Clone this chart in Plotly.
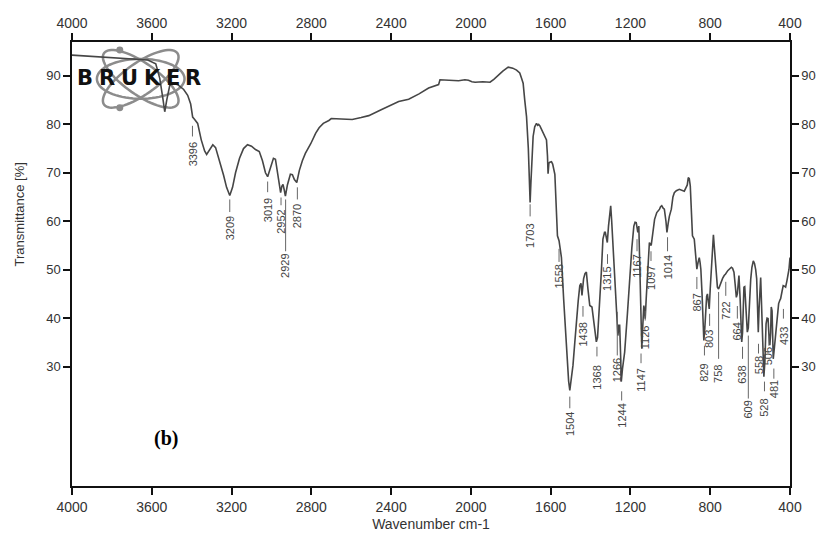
import math
import plotly.graph_objects as go

# ---------------- data ----------------
wavenumber = [
    4000, 3900, 3800, 3700, 3620, 3580, 3560, 3545, 3535, 3525, 3510, 3490, 3470, 3440, 3420,
    3405, 3395, 3385, 3370, 3352, 3335, 3325, 3310, 3294, 3280, 3260, 3240, 3225, 3209, 3195,
    3180, 3160, 3140, 3120, 3100, 3080, 3061, 3045, 3030, 3019, 3005, 2990, 2980, 2970, 2960,
    2954, 2948, 2942, 2936, 2930, 2920, 2905, 2895, 2885, 2873, 2860, 2845, 2830, 2803, 2778,
    2761, 2740, 2712, 2700, 2650, 2595, 2550, 2512, 2450, 2400, 2362, 2312, 2260, 2212, 2171,
    2162, 2155, 2120, 2062, 2030, 2012, 1995, 1979, 1940, 1904, 1885, 1863, 1840, 1813, 1790,
    1771, 1755, 1746, 1738, 1730, 1721, 1712, 1706, 1703, 1699, 1694, 1688, 1680, 1671, 1665,
    1660, 1654, 1638, 1625, 1621, 1616, 1613, 1609, 1604, 1596, 1590, 1579, 1572, 1566, 1558,
    1552, 1546, 1535, 1521, 1510, 1504, 1497, 1488, 1479, 1471, 1462, 1454, 1448, 1443, 1439,
    1435, 1428, 1421, 1413, 1404, 1393, 1382, 1371, 1365, 1354, 1346, 1338, 1330, 1326, 1316,
    1310, 1303, 1299, 1294, 1288, 1280, 1271, 1266, 1263, 1258, 1254, 1249, 1246, 1240, 1229,
    1215, 1204, 1193, 1183, 1177, 1171, 1167, 1163, 1158, 1154, 1150, 1147, 1143, 1138, 1133,
    1129, 1126, 1121, 1116, 1110, 1105, 1100, 1096, 1088, 1079, 1068, 1054, 1049, 1043, 1036,
    1030, 1022, 1017, 1011, 1005, 995, 987, 980, 970, 955, 940, 930, 922, 915, 910,
    905, 900, 895, 889, 880, 872, 867, 861, 855, 851, 847, 841, 836, 832, 827,
    822, 818, 814, 809, 805, 800, 794, 789, 784, 780, 776, 770, 764, 758, 752,
    748, 738, 730, 723, 712, 700, 694, 688, 681, 675, 669, 664, 660, 656, 650,
    645, 642, 638, 631, 627, 622, 617, 614, 609, 604, 597, 591, 584, 578, 572,
    567, 563, 559, 555, 551, 547, 542, 537, 531, 526, 520, 515, 510, 505, 501,
    497, 494, 490, 487, 484, 478, 472, 464, 457, 450, 447, 440, 434, 428, 422,
    415, 408, 405, 400,
]
transmittance = [
    94.3, 94.0, 93.8, 93.5, 93.3, 92.5, 89.5, 85.5, 82.6, 85.0, 88.0, 88.5, 88.2, 87.2, 86.0,
    84.2, 81.5, 81.0, 80.2, 76.8, 74.5, 73.8, 74.8, 75.8, 75.2, 72.5, 69.5, 67.0, 65.3, 67.0,
    70.0, 73.0, 75.0, 75.8, 75.5, 74.8, 74.4, 72.5, 70.0, 69.2, 71.0, 73.0, 72.8, 70.0, 67.0,
    65.9, 67.2, 67.6, 66.5, 65.2, 67.5, 69.7, 69.6, 68.6, 68.0, 70.5, 72.5, 74.0, 76.0, 78.2,
    79.3, 80.2, 80.8, 81.2, 81.1, 81.0, 81.4, 81.8, 83.0, 84.0, 84.7, 85.2, 86.3, 87.5, 88.0,
    88.2, 89.2, 89.1, 89.0, 89.2, 89.1, 88.8, 88.7, 88.8, 88.7, 89.3, 90.2, 91.0, 91.8, 91.6,
    91.2, 90.6, 89.5, 88.5, 85.0, 81.6, 75.0, 67.0, 63.9, 68.0, 73.0, 77.5, 79.5, 80.2, 79.8,
    80.0, 79.7, 78.2, 77.2, 76.8, 73.5, 69.8, 72.0, 72.2, 72.3, 71.8, 69.7, 64.0, 57.0, 56.0,
    54.5, 52.5, 44.0, 33.0, 27.0, 25.1, 27.0, 30.3, 35.0, 39.9, 43.5, 46.7, 47.2, 44.7, 46.5,
    48.1, 49.2, 49.5, 46.0, 42.6, 42.3, 38.5, 35.1, 36.0, 42.6, 49.5, 56.3, 57.7, 57.7, 55.6,
    59.0, 62.5, 63.2, 60.0, 55.0, 48.0, 41.2, 38.0, 36.4, 38.5, 38.5, 32.0, 26.9, 29.5, 33.0,
    41.0, 48.1, 54.5, 59.0, 59.8, 59.7, 58.0, 57.7, 59.0, 52.0, 39.9, 34.5, 33.7, 38.5, 42.6,
    41.5, 39.9, 44.0, 48.1, 52.5, 55.6, 55.2, 55.0, 57.5, 60.4, 61.8, 62.5, 63.0, 63.2, 62.7,
    62.5, 60.0, 57.7, 59.5, 61.0, 62.5, 65.0, 65.9, 66.3, 66.6, 66.4, 66.2, 66.9, 67.5, 69.0,
    68.8, 67.3, 62.0, 57.0, 56.3, 53.0, 50.1, 51.5, 52.5, 51.5, 50.1, 45.0, 38.0, 35.4, 38.0,
    43.3, 44.5, 45.0, 43.5, 41.9, 46.0, 51.5, 55.0, 57.2, 55.0, 52.2, 49.0, 46.4, 46.0, 46.8,
    47.1, 48.2, 48.8, 49.1, 49.8, 50.4, 50.5, 50.3, 49.5, 47.0, 44.3, 45.0, 48.0, 48.8, 44.0,
    37.5, 35.1, 37.0, 46.4, 46.5, 42.0, 38.0, 37.1, 38.0, 43.0, 48.0, 50.5, 51.8, 51.3, 50.0,
    48.1, 43.0, 37.1, 42.0, 47.5, 48.4, 42.0, 34.0, 27.9, 31.0, 38.8, 40.0, 39.9, 36.0, 34.4,
    37.0, 42.3, 41.5, 36.0, 31.6, 34.0, 37.0, 41.2, 43.0, 43.8, 44.0, 45.5, 46.7, 46.6, 46.4,
    47.8, 49.5, 50.1, 52.5,
]

peak_labels = ["3396", "3209", "3019", "2952", "2929", "2870", "1703", "1558", "1504", "1438",
               "1368", "1315", "1266", "1244", "1167", "1147", "1126", "1097", "1014", "867",
               "829", "803", "758", "722", "664", "638", "609", "558", "528", "506", "481", "433"]
peak_wn = [3396, 3209, 3019, 2952, 2929, 2870, 1703, 1558, 1504, 1438,
           1368, 1315, 1266, 1244, 1167, 1147, 1126, 1097, 1014, 867,
           829, 803, 758, 722, 664, 638, 609, 558, 528, 506, 481, 433]

x_ticks = [4000, 3600, 3200, 2800, 2400, 2000, 1600, 1200, 800, 400]
y_ticks = [30, 40, 50, 60, 70, 80, 90]

# ---------------- label layout (transmittance units) ----------------
# (marker line top, marker line bottom, text centre)
label_layout = [
    (79.7, 77.5, 73.9), (64.5, 61.9, 58.5), (68.2, 66.0, 62.2), (64.9, 63.3, 59.9),
    (64.5, 53.8, 50.7), (67.0, 64.5, 61.1), (63.5, 61.0, 57.0), (54.3, 51.6, 48.6),
    (23.8, 21.4, 18.1), (42.5, 40.3, 36.6), (34.1, 32.1, 27.7), (53.2, 51.2, 48.0),
    (41.3, 32.3, 29.3), (24.9, 23.0, 19.8), (56.3, 53.8, 50.8), (32.7, 30.7, 27.3),
    (41.5, 39.5, 36.1), (53.8, 51.8, 48.3), (56.7, 53.8, 50.4), (48.5, 46.0, 43.2),
    (34.3, 32.3, 28.8), (40.9, 38.4, 35.6), (45.4, 31.6, 28.4), (47.5, 44.6, 41.5),
    (42.5, 39.9, 37.3), (34.1, 31.6, 28.2), (36.4, 23.4, 21.2), (34.7, 32.7, 30.4),
    (26.9, 24.9, 21.6), (36.4, 34.3, 32.1), (29.6, 27.5, 25.3), (41.9, 39.9, 36.4),
]

W, H = 828, 542
ML, MR, MT, MB = 72, 35, 42, 54
PW, PH = W - ML - MR, H - MT - MB
Y_RANGE = [5.35, 97.0]


def px2paper(px, py):
    return ((px - ML) / PW, (H - MB - py) / PH)


fig = go.Figure()
fig.add_trace(go.Scatter(x=wavenumber, y=transmittance, mode="lines",
                         line=dict(color="#464646", width=1.6), hoverinfo="skip",
                         showlegend=False))
fig.add_trace(go.Scatter(x=wavenumber, y=transmittance, mode="lines", xaxis="x2", yaxis="y2",
                         line=dict(color="rgba(0,0,0,0)", width=0), hoverinfo="skip",
                         showlegend=False))

shapes = []
annotations = []
label_font = dict(family="Liberation Sans, Arial, sans-serif", size=11, color="#444444")
for name, wn, (top, bot, mid) in zip(peak_labels, peak_wn, label_layout):
    shapes.append(dict(type="line", xref="x", yref="y", x0=wn, x1=wn, y0=top, y1=bot,
                       line=dict(color="#666666", width=1), layer="above"))
    annotations.append(dict(x=wn, y=mid, xref="x", yref="y", text=name, textangle=-90,
                            showarrow=False, font=label_font, xanchor="center",
                            yanchor="middle"))

# ---------------- Bruker logo ----------------
def ellipse_path(cx, cy, a, b, ang_deg, n=72):
    th = math.radians(ang_deg)
    pts = []
    for i in range(n):
        t = 2 * math.pi * i / n
        x = cx + a * math.cos(t) * math.cos(th) - b * math.sin(t) * math.sin(th)
        y = cy + a * math.cos(t) * math.sin(th) + b * math.sin(t) * math.cos(th)
        pts.append(px2paper(x, y))
    return "M " + " L ".join(f"{p[0]:.5f},{p[1]:.5f}" for p in pts) + " Z"


for (a, b, ang) in [(44, 20, 0), (45, 16, 35), (45, 16, -35)]:
    shapes.append(dict(type="path", xref="paper", yref="paper", path=ellipse_path(141, 79, a, b, ang),
                       line=dict(color="#8c8c8c", width=2.5), layer="below"))
for (dx, dy) in [(120, 50), (120, 108)]:
    x0, y0 = px2paper(dx - 3.5, dy + 3.5)
    x1, y1 = px2paper(dx + 3.5, dy - 3.5)
    shapes.append(dict(type="circle", xref="paper", yref="paper", x0=x0, y0=y0, x1=x1, y1=y1,
                       fillcolor="#8c8c8c", line=dict(width=0), layer="below"))

for ch, cxp in zip("BRUKER", [85.5, 107.5, 130, 152.5, 173, 193.5]):
    px, py = px2paper(cxp, 78)
    annotations.append(dict(x=px, y=py, xref="paper", yref="paper", text=f"<b>{ch}</b>",
                            showarrow=False, xanchor="center", yanchor="middle",
                            font=dict(family="DejaVu Sans, Arial, sans-serif", size=21,
                                      color="#111111", weight=900)))

# (b) label
bx, by = px2paper(166, 440)
annotations.append(dict(x=bx, y=by, xref="paper", yref="paper", text="<b>(b)</b>",
                        showarrow=False, xanchor="center", yanchor="middle",
                        font=dict(family="Liberation Serif, Times New Roman, serif", size=20,
                                  color="#000000")))

# y-axis title
tx, ty = px2paper(19, 215)
annotations.append(dict(x=tx, y=ty, xref="paper", yref="paper", text="Transmittance [%]",
                        textangle=-90, showarrow=False, xanchor="center", yanchor="middle",
                        font=dict(family="Liberation Sans, Arial, sans-serif", size=13,
                                  color="#333333")))

tick_font_x = dict(family="Liberation Sans, Arial, sans-serif", size=14, color="#333333")
tick_font_y = dict(family="Liberation Sans, Arial, sans-serif", size=13, color="#333333")
common_x = dict(range=[4000, 400], tickvals=x_ticks, ticktext=[str(v) for v in x_ticks],
                ticks="outside", ticklen=7, tickwidth=1.5, tickcolor="#111111",
                showline=True, linecolor="#111111", linewidth=1.5, showgrid=False,
                zeroline=False, tickfont=tick_font_x)
common_y = dict(range=Y_RANGE, tickvals=y_ticks, ticktext=[str(v) for v in y_ticks],
                ticks="outside", ticklen=7, tickwidth=1.5, tickcolor="#111111",
                showline=True, linecolor="#111111", linewidth=1.5, showgrid=False,
                zeroline=False, tickfont=tick_font_y)

fig.update_layout(
    width=W, height=H,
    margin=dict(l=ML, r=MR, t=MT, b=MB),
    paper_bgcolor="white", plot_bgcolor="white",
    xaxis=dict(**common_x, side="bottom",
               title=dict(text="Wavenumber cm-1", standoff=6,
                          font=dict(family="Liberation Sans, Arial, sans-serif", size=14,
                                    color="#333333"))),
    xaxis2=dict(**common_x, side="top", overlaying="x"),
    yaxis=dict(**common_y, side="left"),
    yaxis2=dict(**common_y, side="right", overlaying="y"),
    shapes=shapes,
    annotations=annotations,
    showlegend=False,
)

fig.write_html("out.html", config={"displayModeBar": False},
               post_script="document.body.style.margin='0';")
